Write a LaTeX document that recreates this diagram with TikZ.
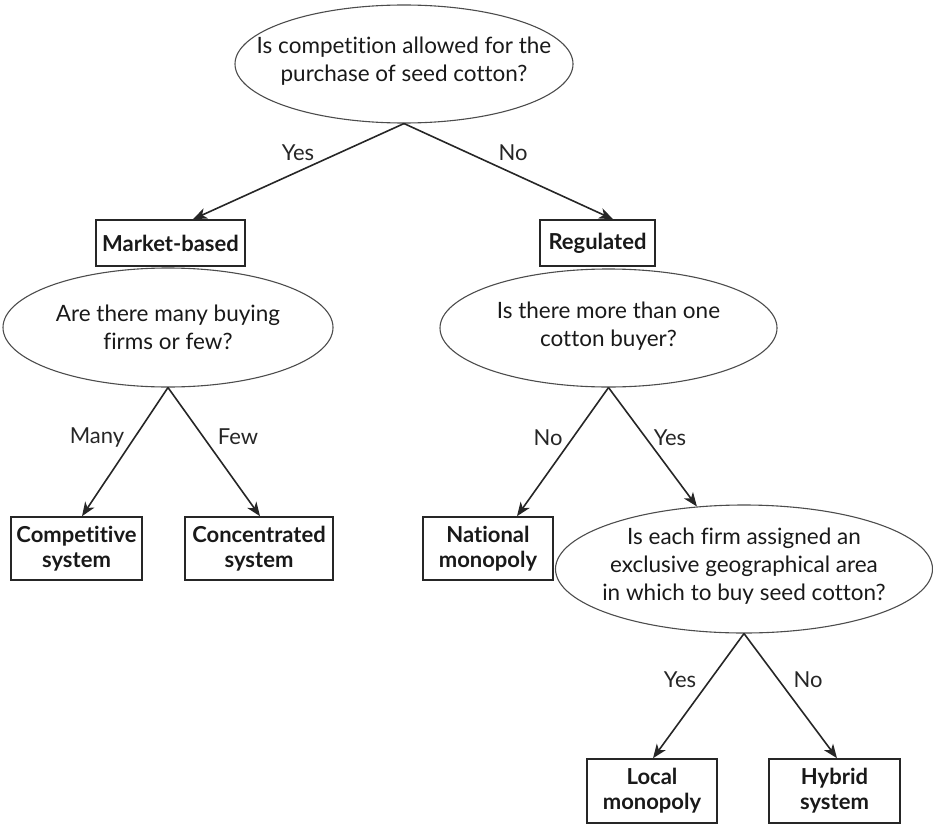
\documentclass[tikz,border=0pt]{standalone}
\usepackage{fontspec}
\setmainfont{Lato}[Ligatures={NoCommon}]
\usetikzlibrary{shapes.geometric,arrows.meta}
\begin{document}
\begin{tikzpicture}[x=1pt,y=-1pt,
  q/.style={ellipse,draw=black!70,line width=1.1pt,inner sep=0pt},
  qtext/.style={inner sep=0pt,align=center,font=\fontsize{22.5}{28}\selectfont,text=black!90},
  box/.style={rectangle,draw=black!85,line width=1.6pt,inner sep=0pt,align=center,
              font=\bfseries\fontsize{22}{25}\selectfont,text=black!90},
  lbl/.style={font=\fontsize{22}{24}\selectfont,text=black!85,inner sep=0pt},
  arr/.style={-{Stealth[length=14pt,width=11pt,inset=4pt]},line width=1.6pt,draw=black!85}]
\useasboundingbox (0,0) rectangle (933,824);

\node[q, minimum width=338, minimum height=118] (q1) at (404,64) {};
\node[qtext] (q1t) at ([yshift=3]q1.center) {Is competition allowed for the\\purchase of seed cotton?};
\node[box, minimum width=149, minimum height=46] (mb) at (170.5,243) {Market-based};
\node[box, minimum width=115, minimum height=46] (rg) at (597.5,243) {Regulated};

\node[q, minimum width=330, minimum height=119] (q2) at (168,327.5) {};
\node[qtext] (q2t) at ([yshift=0]q2.center) {Are there many buying\\firms or few?};
\node[q, minimum width=337, minimum height=118] (q3) at (608.5,328) {};
\node[qtext] (q3t) at ([yshift=2]q3.center) {Is there more than one\\cotton buyer?};

\node[box, minimum width=131, minimum height=63] (cs) at (76.5,548.5) {Competitive\\system};
\node[box, minimum width=148, minimum height=63] (cc) at (259,548.5) {Concentrated\\system};
\node[box, minimum width=130, minimum height=63] (nm) at (488,548.5) {National\\monopoly};

\node[q, minimum width=377, minimum height=128] (q4) at (744,569) {};
\node[qtext] (q4t) at ([yshift=3]q4.center) {Is each firm assigned an\\exclusive geographical area\\in which to buy seed cotton?};

\node[box, minimum width=130, minimum height=64] (lm) at (652,791) {Local\\monopoly};
\node[box, minimum width=131, minimum height=64] (hy) at (834.5,791) {Hybrid\\system};

\draw[arr] (q1.south) -- ([xshift=22.5]mb.north);
\draw[arr] (q1.south) -- ([xshift=15.5]rg.north);
\draw[arr] (q2.south) -- ([xshift=5.5]cs.north);
\draw[arr] (q2.south) -- ([xshift=1]cc.north);
\draw[arr] (q3.south) -- ([xshift=29]nm.north);
\draw[arr] (q3.south) -- (q4.127.2);
\draw[arr] (q4.south) -- ([xshift=1]lm.north);
\draw[arr] (q4.south) -- ([xshift=2.5]hy.north);

\node[lbl] (l1) at (298,153) {Yes};
\node[lbl] (l2) at (513,153) {No};
\node[lbl] (l3) at (97,437) {Many};
\node[lbl] (l4) at (238,437) {Few};
\node[lbl] (l5) at (548,438) {No};
\node[lbl] (l6) at (670,438) {Yes};
\node[lbl] (l7) at (680,680) {Yes};
\node[lbl] (l8) at (808,680) {No};
\end{tikzpicture}
\end{document}
